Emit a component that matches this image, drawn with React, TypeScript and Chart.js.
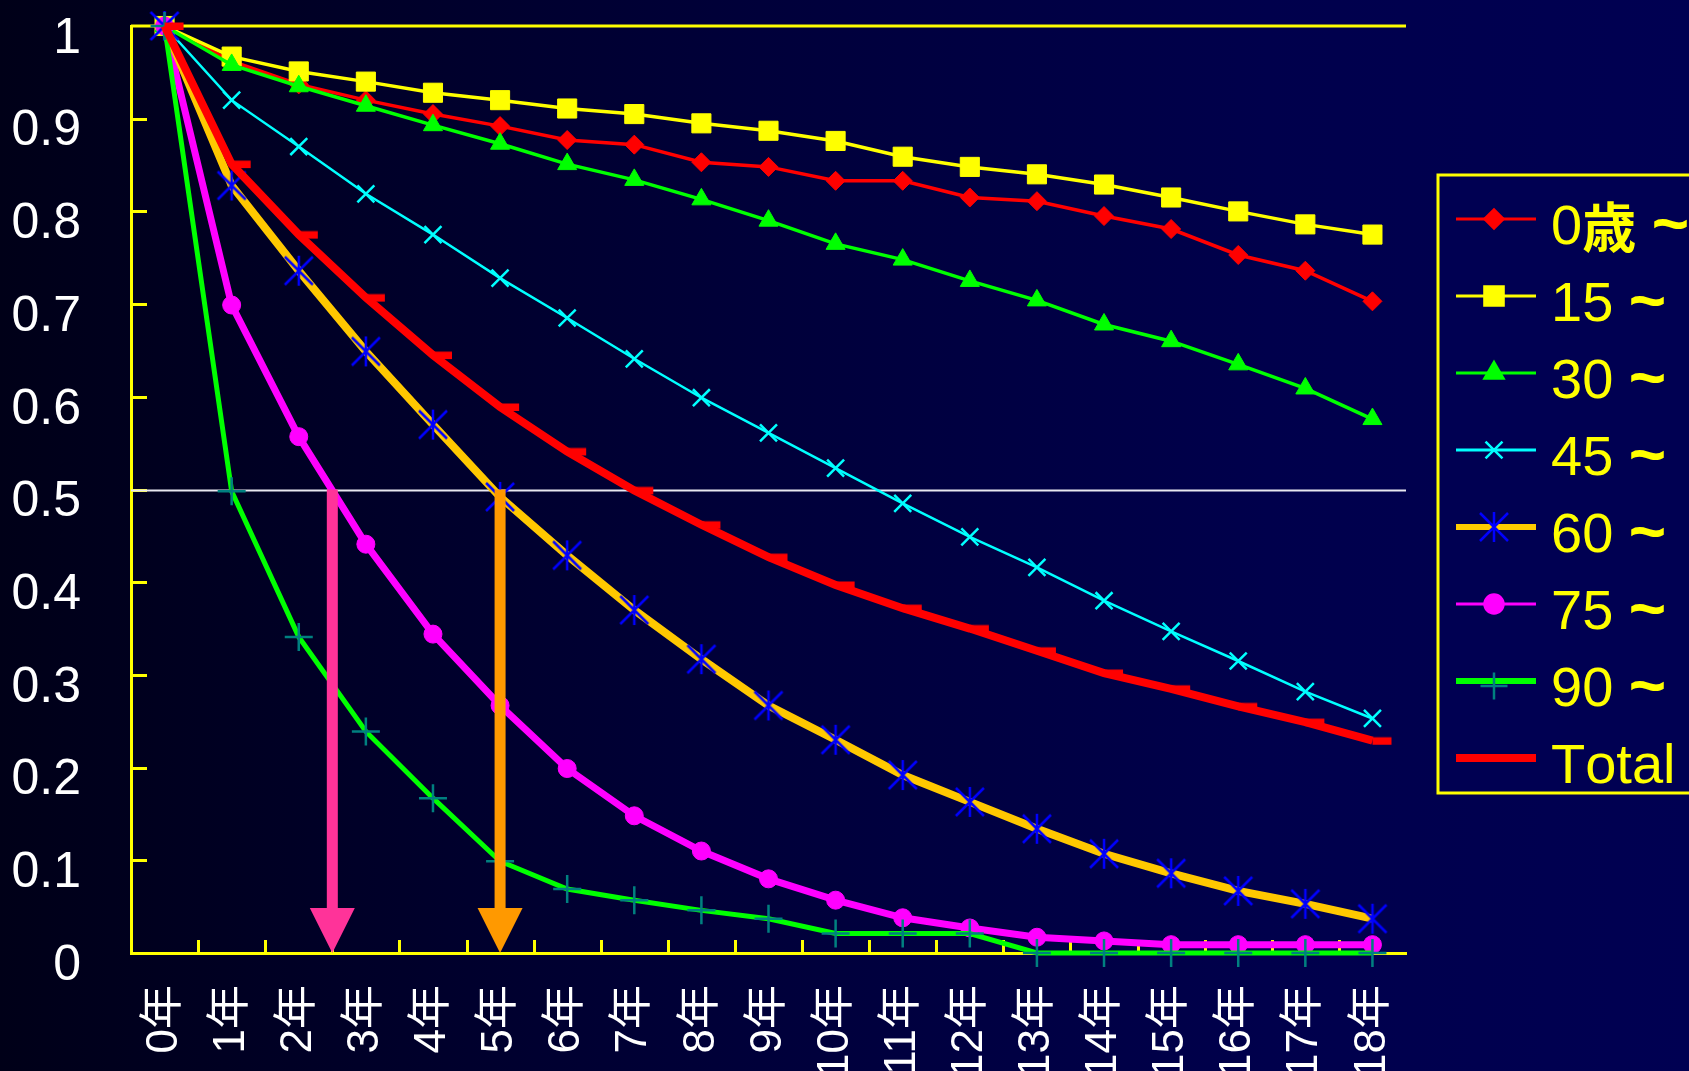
import React, { useEffect, useRef } from 'react';
import { Chart, registerables } from 'chart.js';
import { drawPoint } from 'chart.js/helpers';

Chart.register(...registerables);

// ---------- data ----------
const categories = ['0年', '1年', '2年', '3年', '4年', '5年', '6年', '7年', '8年', '9年', '10年', '11年', '12年', '13年', '14年', '15年', '16年', '17年', '18年'];
const seriesLabels = ['0歳 ~', '15 ~', '30 ~', '45 ~', '60 ~', '75 ~', '90 ~', 'Total'];

const age0 = [1, 0.962, 0.937, 0.92, 0.905, 0.892, 0.877, 0.872, 0.853, 0.848, 0.833, 0.833, 0.815, 0.811, 0.795, 0.781, 0.753, 0.736, 0.703];
const age15 = [1, 0.967, 0.951, 0.94, 0.928, 0.92, 0.911, 0.905, 0.895, 0.887, 0.876, 0.859, 0.848, 0.84, 0.829, 0.815, 0.8, 0.786, 0.775];
const age30 = [1, 0.958, 0.935, 0.914, 0.893, 0.873, 0.851, 0.834, 0.813, 0.79, 0.765, 0.748, 0.725, 0.704, 0.678, 0.66, 0.635, 0.609, 0.576];
const age45 = [1, 0.92, 0.87, 0.819, 0.775, 0.728, 0.685, 0.641, 0.599, 0.561, 0.523, 0.485, 0.449, 0.416, 0.38, 0.347, 0.315, 0.282, 0.253];
const age60 = [1, 0.828, 0.736, 0.649, 0.57, 0.492, 0.429, 0.37, 0.317, 0.267, 0.23, 0.192, 0.163, 0.134, 0.107, 0.086, 0.067, 0.053, 0.037];
const age75 = [1, 0.699, 0.557, 0.441, 0.344, 0.267, 0.199, 0.148, 0.11, 0.08, 0.057, 0.038, 0.027, 0.017, 0.013, 0.009, 0.009, 0.009, 0.009];
const age90 = [1, 0.498, 0.341, 0.239, 0.167, 0.099, 0.069, 0.057, 0.046, 0.037, 0.021, 0.021, 0.021, 0, 0, 0, 0, 0, 0];
const total = [1, 0.851, 0.775, 0.707, 0.645, 0.589, 0.541, 0.499, 0.462, 0.427, 0.397, 0.372, 0.35, 0.326, 0.302, 0.285, 0.266, 0.249, 0.229];

const yTickValues = [0, 0.1, 0.2, 0.3, 0.4, 0.5, 0.6, 0.7, 0.8, 0.9, 1];
const yTickLabels = ['0', '0.1', '0.2', '0.3', '0.4', '0.5', '0.6', '0.7', '0.8', '0.9', '1'];
const halfValue = 0.5;
const arrowXValues = [2.5, 5];
const arrowColors = ['#FF3399', '#FF9900'];

// ---------- styles ----------
const FONT = "'Liberation Sans', Arial, 'Noto Sans CJK JP', sans-serif";
const CJK_FONT = "'Noto Sans CJK JP', sans-serif";
const AXIS = '#FFFF00';
const WHITE = '#FFFFFF';

function makeStar(): HTMLCanvasElement {
  const c = document.createElement('canvas');
  c.width = 32; c.height = 32;
  const g = c.getContext('2d')!;
  g.strokeStyle = '#0000FF';
  g.lineWidth = 2.5;
  g.beginPath();
  g.moveTo(2, 2); g.lineTo(30, 30);
  g.moveTo(30, 2); g.lineTo(2, 30);
  g.moveTo(16, 1); g.lineTo(16, 31);
  g.stroke();
  return c;
}

function makeDash(): HTMLCanvasElement {
  const c = document.createElement('canvas');
  c.width = 40; c.height = 10;
  const g = c.getContext('2d')!;
  g.fillStyle = '#FF0000';
  g.fillRect(20, 1.5, 19, 7.5);
  return c;
}

export default function App() {
  const ref = useRef<HTMLCanvasElement | null>(null);

  useEffect(() => {
    document.body.style.margin = '0';
    const star = makeStar();
    const dash = makeDash();

    const legendStyles = [
      { color: '#FF0000', lw: 3, point: 'rectRot', r: 9.5, pc: '#FF0000' },
      { color: '#FFFF00', lw: 3, point: 'rect', r: 13.5, pc: '#FFFF00' },
      { color: '#00FF00', lw: 3, point: 'triangle', r: 11, pc: '#00FF00' },
      { color: '#00FFFF', lw: 3, point: 'crossRot', r: 12, pc: '#00FFFF' },
      { color: '#FFCC00', lw: 6, point: star, r: 10, pc: '#0000FF' },
      { color: '#FF00FF', lw: 3, point: 'circle', r: 9.5, pc: '#FF00FF' },
      { color: '#00FF00', lw: 6, point: 'cross', r: 13.5, pc: '#008080' },
      { color: '#FF0000', lw: 8, point: null, r: 0, pc: '#FF0000' },
    ];

    const drawLegendText = (ctx: CanvasRenderingContext2D, text: string, x0: number, y0: number) => {
      let x = x0;
      for (const ch of Array.from(text)) {
        const cjk = /[\u3000-\u9fff\uff00-\uffef]/.test(ch);
        if (cjk) ctx.font = `bold 54px ${CJK_FONT}`;
        else if (ch === '~') ctx.font = `bold 64px ${FONT}`;
        else ctx.font = `56px ${FONT}`;
        ctx.fillText(ch, x, cjk ? y0 - 2 : ch === '~' ? y0 - 2 : y0);
        x += ctx.measureText(ch).width;
      }
    };

    const decor = {
      id: 'decor',
      beforeDatasetsDraw(chart: any) {
        const { ctx, chartArea: a, scales } = chart;
        const x = scales.x, y = scales.y;
        ctx.save();
        ctx.strokeStyle = AXIS;
        ctx.lineWidth = 3;
        const yTop = y.getPixelForValue(1);
        ctx.beginPath();
        ctx.moveTo(a.left, yTop);
        ctx.lineTo(a.right, yTop);
        ctx.stroke();
        yTickValues.forEach((v) => {
          if (v <= 0 || v >= 1) return;
          const py = Math.round(y.getPixelForValue(v)) + 0.5;
          ctx.beginPath();
          ctx.moveTo(a.left, py);
          ctx.lineTo(a.left + 16, py);
          ctx.stroke();
        });
        for (let k = 1; k < categories.length; k++) {
          const px = Math.round(x.getPixelForValue(k - 0.5)) + 0.5;
          ctx.beginPath();
          ctx.moveTo(px, a.bottom);
          ctx.lineTo(px, a.bottom - 13);
          ctx.stroke();
        }
        ctx.strokeStyle = '#E8E8F0';
        ctx.lineWidth = 2;
        const yh = Math.round(y.getPixelForValue(halfValue)) + 0.5;
        ctx.beginPath();
        ctx.moveTo(a.left, yh);
        ctx.lineTo(a.right, yh);
        ctx.stroke();
        ctx.restore();
      },
      afterDatasetsDraw(chart: any) {
        const { ctx, scales } = chart;
        const x = scales.x, y = scales.y;
        ctx.save();
        arrowXValues.forEach((xv, i) => {
          const px = x.getPixelForValue(xv);
          const top = y.getPixelForValue(halfValue);
          const tip = y.getPixelForValue(0);
          const headH = 45, headW = 45, shaft = 11;
          ctx.fillStyle = arrowColors[i];
          ctx.fillRect(px - shaft / 2, top, shaft, tip - headH - top + 1);
          ctx.beginPath();
          ctx.moveTo(px - headW / 2, tip - headH);
          ctx.lineTo(px + headW / 2, tip - headH);
          ctx.lineTo(px, tip);
          ctx.closePath();
          ctx.fill();
        });
        ctx.restore();
      },
      afterDraw(chart: any) {
        const { ctx } = chart;
        ctx.save();
        ctx.fillStyle = '#000052';
        ctx.fillRect(1438, 175, 400, 618);
        ctx.strokeStyle = AXIS;
        ctx.lineWidth = 3;
        ctx.strokeRect(1438, 175, 400, 618);
        chart.data.datasets.forEach((ds: any, i: number) => {
          const st = legendStyles[i];
          const ly = 219 + i * 77;
          ctx.strokeStyle = st.color;
          ctx.lineWidth = st.lw;
          ctx.beginPath();
          ctx.moveTo(1456, ly);
          ctx.lineTo(1536, ly);
          ctx.stroke();
          if (st.point) {
            ctx.fillStyle = st.pc;
            ctx.strokeStyle = st.pc;
            ctx.lineWidth = 2.5;
            drawPoint(ctx, { pointStyle: st.point, rotation: 0, radius: st.r, borderWidth: 2.5 } as any, 1494, st.point === 'cross' ? ly + 5 : ly);
          }
          ctx.fillStyle = '#FFFF00';
          ctx.textAlign = 'left';
          ctx.textBaseline = 'middle';
          drawLegendText(ctx, ds.label, 1551, ly + 10);
        });
        ctx.restore();
      },
    };

    const mk = (label: string, data: number[], o: any) => ({
      label,
      data,
      tension: 0,
      clip: false,
      borderColor: o.color,
      borderWidth: o.lw,
      pointStyle: o.ps,
      pointRadius: o.r,
      pointBackgroundColor: o.pc,
      pointBorderColor: o.pc,
      pointBorderWidth: o.pbw ?? 1,
      order: o.order,
    });

    const chart = new Chart(ref.current!, {
      type: 'line',
      data: {
        labels: categories,
        datasets: [
          mk(seriesLabels[0], age0, { color: '#FF0000', lw: 3.5, ps: 'rectRot', r: 9.5, pc: '#FF0000', order: 7 }),
          mk(seriesLabels[1], age15, { color: '#FFFF00', lw: 3.5, ps: 'rect', r: 13.5, pc: '#FFFF00', order: 6 }),
          mk(seriesLabels[2], age30, { color: '#00FF00', lw: 3.5, ps: 'triangle', r: 11, pc: '#00FF00', order: 5 }),
          mk(seriesLabels[3], age45, { color: '#00FFFF', lw: 2.5, ps: 'crossRot', r: 12, pc: '#00FFFF', pbw: 2.5, order: 4 }),
          mk(seriesLabels[4], age60, { color: '#FFC800', lw: 8, ps: star, r: 10, pc: '#0000FF', order: 2 }),
          mk(seriesLabels[5], age75, { color: '#FF00FF', lw: 7, ps: 'circle', r: 9, pc: '#FF00FF', order: 3 }),
          mk(seriesLabels[6], age90, { color: '#00FF00', lw: 5, ps: 'cross', r: 14, pc: '#008080', pbw: 2.5, order: 1 }),
          mk(seriesLabels[7], total, { color: '#FF0000', lw: 8, ps: dash, r: 10, pc: '#FF0000', order: 0 }),
        ],
      },
      options: {
        animation: false,
        responsive: true,
        maintainAspectRatio: false,
        events: [],
        layout: { padding: { top: 26, right: 283, left: 0, bottom: 0 } },
        plugins: {
          legend: { display: false },
          tooltip: { enabled: false },
          title: { display: false },
        },
        scales: {
          x: {
            type: 'category',
            offset: true,
            grid: { display: false, drawTicks: false, offset: true },
            border: { display: true, color: AXIS, width: 3 },
            ticks: {
              autoSkip: false,
              minRotation: 90,
              maxRotation: 90,
              padding: 32,
              color: WHITE,
              font: { size: 44, family: FONT },
            },
            afterFit: (s: any) => { s.height = 118; s.paddingLeft = 0; s.paddingRight = 0; },
          },
          y: {
            type: 'linear',
            min: 0,
            max: 1,
            grid: { display: false, drawTicks: false },
            border: { display: true, color: AXIS, width: 3 },
            afterBuildTicks: (s: any) => { s.ticks = yTickValues.map((v) => ({ value: v })); },
            ticks: {
              padding: 50,
              labelOffset: 13,
              color: WHITE,
              font: { size: 50, family: FONT },
              callback: (v: any) => {
                const idx = yTickValues.findIndex((t) => Math.abs(t - Number(v)) < 1e-6);
                return idx >= 0 ? yTickLabels[idx] : '';
              },
            },
            afterFit: (s: any) => { s.width = 131; s.paddingTop = 0; s.paddingBottom = 0; },
          },
        },
      },
      plugins: [decor],
    });
    return () => chart.destroy();
  }, []);

  return (
    <div
      style={{
        position: 'fixed',
        left: 0,
        top: 0,
        width: 1689,
        height: 1071,
        overflow: 'hidden',
        background: 'linear-gradient(90deg, #000018 0%, #00003a 45%, #00004c 75%, #000052 100%)',
      }}
    >
      <canvas ref={ref} />
    </div>
  );
}
